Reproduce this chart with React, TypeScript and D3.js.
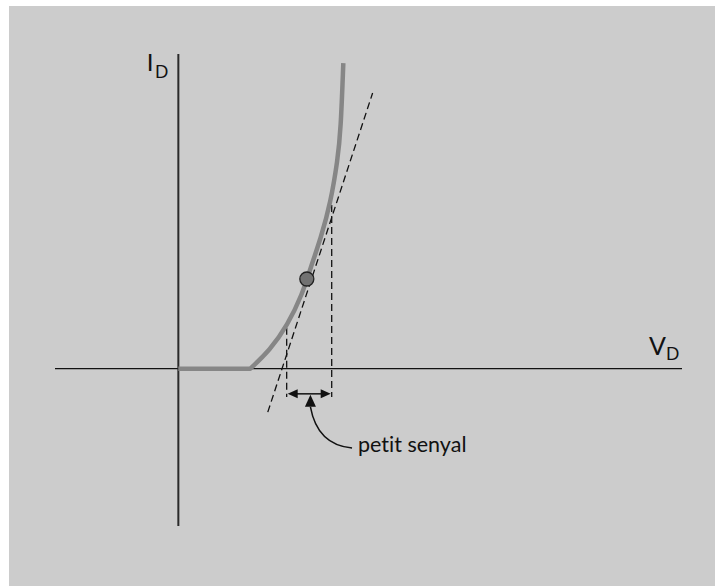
import React from "react";
import * as d3 from "d3";

// Diode characteristic I_D(V_D): forward voltage in V, current in mA
const flatV = [0, 0.7];
const flatI = [0, 0];
const riseV = [0.7, 0.89, 1.06, 1.21, 1.28, 1.39, 1.48, 1.55, 1.58, 1.605];
const riseI = [0, 0.59, 1.36, 2.4, 3.14, 4.19, 5.26, 6.63, 7.58, 9.71];

// Quiescent operating point
const qPointV = [1.25];
const qPointI = [2.85];

// Tangent (small-signal) line end points
const tangentV = [0.87, 1.89];
const tangentI = [-1.38, 8.76];

// Small-signal voltage swing limits
const swingV = [1.054, 1.492];
const swingTopI = [1.3, 5.2];
const swingBottomI = -0.9;
const swingArrowI = -0.8;

// Axis extents
const xDomain = [-1.2, 4.9];
const yDomain = [-5, 10];

const axisLabels = [
  { main: "I", sub: "D" },
  { main: "V", sub: "D" },
];
const noteText = "petit senyal";

const W = 715;
const H = 586;

export default function App() {
  const x = d3.scaleLinear().domain(xDomain).range([55, 682]);
  const y = d3.scaleLinear().domain(yDomain).range([526, 54]);

  const risePts: [number, number][] = riseV.map((v, i) => [v, riseI[i]]);
  const rise = d3
    .line<[number, number]>()
    .x((d) => x(d[0]))
    .y((d) => y(d[1]))
    .curve(d3.curveBasis);
  const risePath = rise(risePts) ?? "";
  const curvePath = `M${x(flatV[0])},${y(flatI[0])}L${x(flatV[1])},${y(flatI[1])}` + risePath.replace(/^M/, "L");

  // Curved pointer from the note up to the swing arrow
  const tipX = x(1.285);
  const tipY = y(swingArrowI) + 1;
  const baseY = tipY + 12;
  const endX = x(1.69);
  const endY = y(-2.52);
  const pointer = `M${tipX},${baseY} Q${tipX + 7},${endY - 3} ${endX},${endY}`;

  const fontFam = "Lato, 'Open Sans', sans-serif";
  const noLig = { fontVariantLigatures: "none" as const };

  return (
    <svg
      width={W}
      height={H}
      style={{ position: "absolute", left: 0, top: 0, background: "#ffffff" }}
    >
      <rect x={9} y={6} width={W - 9} height={H - 6} fill="#cccccc" />

      {/* axes */}
      <line x1={x(xDomain[0])} x2={x(xDomain[1])} y1={y(0)} y2={y(0)} stroke="#111" strokeWidth={1.4} />
      <line x1={x(0)} x2={x(0)} y1={y(yDomain[0])} y2={y(yDomain[1])} stroke="#2a2a2a" strokeWidth={2} />

      {/* axis labels */}
      <text x={x(0) - 31.5} y={y(0) - 297.5} fontFamily={fontFam} fontSize={24} fill="#111">
        {axisLabels[0].main}
        <tspan fontSize={17.5} dx={1.5} dy={6.7}>{axisLabels[0].sub}</tspan>
      </text>
      <text x={x(4.58)} y={y(0) - 13.5} fontFamily={fontFam} fontSize={25} fill="#111">
        {axisLabels[1].main}
        <tspan fontSize={17.5} dx={0} dy={4.5}>{axisLabels[1].sub}</tspan>
      </text>

      {/* swing verticals */}
      {swingV.map((v, i) => (
        <line
          key={i}
          x1={x(v)}
          x2={x(v)}
          y1={y(swingTopI[i])}
          y2={y(swingBottomI)}
          stroke="#111"
          strokeWidth={1.3}
          strokeDasharray="7,4"
        />
      ))}

      {/* tangent */}
      <line
        x1={x(tangentV[0])}
        y1={y(tangentI[0])}
        x2={x(tangentV[1])}
        y2={y(tangentI[1])}
        stroke="#111"
        strokeWidth={1.3}
        strokeDasharray="7,4"
      />

      {/* characteristic curve */}
      <path d={curvePath} fill="none" stroke="#868686" strokeWidth={4.5} strokeLinejoin="round" />

      {/* operating point */}
      <circle cx={x(qPointV[0])} cy={y(qPointI[0])} r={7} fill="#727272" stroke="#222" strokeWidth={1.3} />

      {/* swing double arrow */}
      <line x1={x(swingV[0]) + 8} x2={x(swingV[1]) - 8} y1={y(swingArrowI)} y2={y(swingArrowI)} stroke="#111" strokeWidth={1.5} />
      <path d={`M${x(swingV[0]) + 1},${y(swingArrowI)} l10,-4.5 l0,9 Z`} fill="#111" />
      <path d={`M${x(swingV[1]) - 1},${y(swingArrowI)} l-10,-4.5 l0,9 Z`} fill="#111" />

      {/* note pointer */}
      <path d={pointer} fill="none" stroke="#111" strokeWidth={1.5} />
      <path d={`M${tipX},${tipY} l-5.5,${baseY - tipY} l11,0 Z`} fill="#111" />

      <text x={endX + 6} y={endY + 4} fontFamily={fontFam} fontSize={21.5} fill="#111" style={noLig}>
        {noteText}
      </text>
    </svg>
  );
}
